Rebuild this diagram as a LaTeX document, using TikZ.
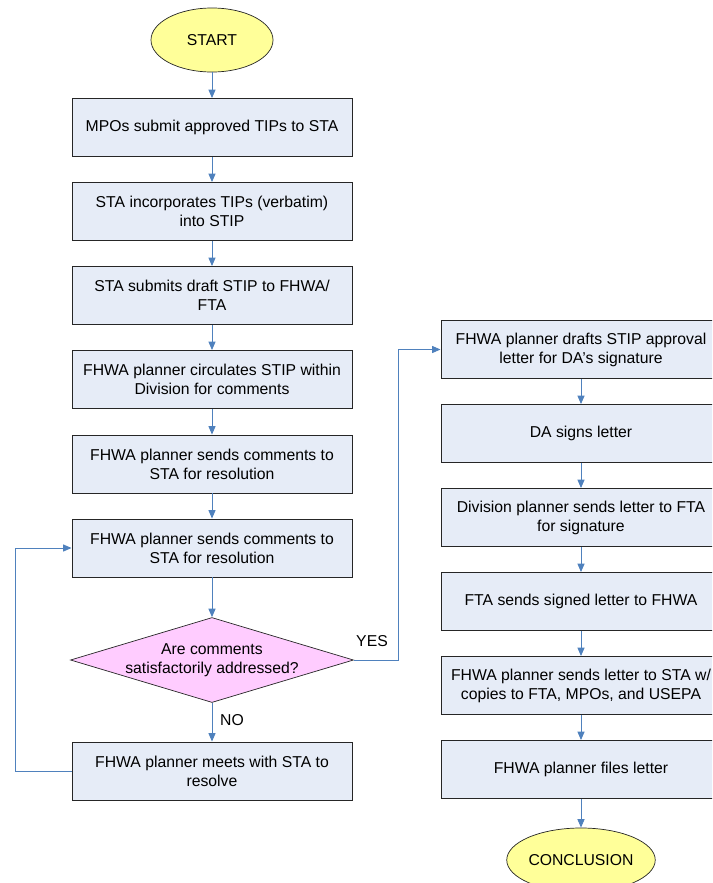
\documentclass[tikz,border=0pt]{standalone}
\usepackage{fontspec}
\setmainfont{Liberation Sans}
\usepackage{tikz}
\usetikzlibrary{arrows.meta}
\usetikzlibrary{shapes}
\definecolor{StepFill}{RGB}{230,236,247}
\definecolor{TermFill}{RGB}{255,255,153}
\definecolor{AskFill}{RGB}{255,204,255}
\definecolor{FlowBlue}{RGB}{79,129,189}

\tikzset{
	txt/.style={font=\fontsize{11.2}{13.4}\selectfont, align=center},
	stepbox/.style={txt, rectangle, draw=black!85, line width=0.6pt, fill=StepFill,
		minimum width=7cm, minimum height=1.45cm, inner sep=2pt},
	term/.style={txt, ellipse, draw=black!85, line width=0.5pt, fill=TermFill,
		minimum width=3.05cm, minimum height=1.6cm, inner sep=0pt},
	ask/.style={txt, diamond, aspect=3.33, draw=black!85, line width=0.5pt, fill=AskFill,
		minimum width=7cm, minimum height=2.1cm, inner sep=0pt},
	flow/.style={draw=FlowBlue, line width=0.7pt, -{Triangle[length=6pt,width=5pt]}}
}

\begin{document}
\begin{tikzpicture}[x=0.025cm, y=-0.025cm]
		\path [use as bounding box, clip] (0,0) rectangle (712,883);
		
		\node [term] (start) at (212,40) {START};
		\node [stepbox] (b1) at (212,127.5) {MPOs submit approved TIPs to STA};
		\node [stepbox] (b2) at (212,211.5) {STA incorporates TIPs (verbatim)\\into STIP};
		\node [stepbox] (b3) at (212,295.5) {STA submits draft STIP to FHWA/\\FTA};
		\node [stepbox] (b4) at (212,379.5) {FHWA planner circulates STIP within\\Division for comments};
		\node [stepbox] (b5) at (212,464) {FHWA planner sends comments to\\STA for resolution};
		\node [stepbox] (b6) at (212,548) {FHWA planner sends comments to\\STA for resolution};
		\node [ask] (dec) at (212,660) {Are comments\\satisfactorily addressed?};
		\node [stepbox] (b7) at (212,771) {FHWA planner meets with STA to\\resolve};
		
		\node [stepbox] (r1) at (581,349.5) {FHWA planner drafts STIP approval\\letter for DA’s signature};
		\node [stepbox] (r2) at (581,433.5) {DA signs letter};
		\node [stepbox] (r3) at (581,517.5) {Division planner sends letter to FTA\\for signature};
		\node [stepbox] (r4) at (581,601.5) {FTA sends signed letter to FHWA};
		\node [stepbox] (r5) at (581,685.5) {FHWA planner sends letter to STA w/\\copies to FTA, MPOs, and USEPA};
		\node [stepbox] (r6) at (581,769.5) {FHWA planner files letter};
		\node [term, minimum width=3.65cm] (stop) at (581,860) {CONCLUSION};
		
		\node [txt] (yes) at (372,641) {YES};
		\node [txt] (no) at (232,720) {NO};
		
		\draw [flow] (start) -- (b1);
		\draw [flow] (b1) -- (b2);
		\draw [flow] (b2) -- (b3);
		\draw [flow] (b3) -- (b4);
		\draw [flow] (b4) -- (b5);
		\draw [flow] (b5) -- (b6);
		\draw [flow] (b6) -- (dec);
		\draw [flow] (dec) -- (b7);
		\draw [flow] (b7.west) -- ++(-56,0) |- (b6.west);
		\draw [flow] (dec.east) -- ++(45,0) |- (r1.west);
		
		\draw [flow] (r1) -- (r2);
		\draw [flow] (r2) -- (r3);
		\draw [flow] (r3) -- (r4);
		\draw [flow] (r4) -- (r5);
		\draw [flow] (r5) -- (r6);
		\draw [flow] (r6) -- (stop);
	\end{tikzpicture}
\end{document}
